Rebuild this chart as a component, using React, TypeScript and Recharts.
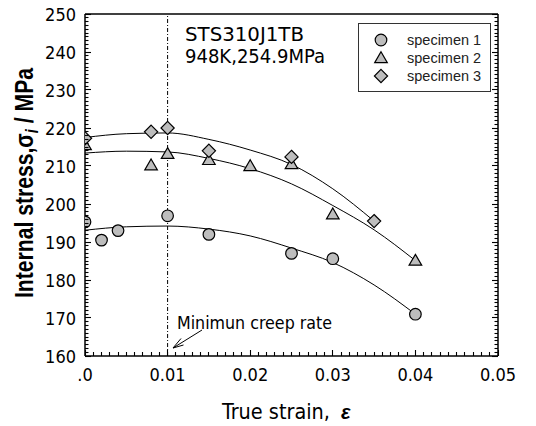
import React from 'react';
import { ComposedChart, XAxis, YAxis, Line, Scatter, ReferenceLine, Legend, Customized } from 'recharts';

// ---- measured points ----
const spec1Strain = [0, 0.002, 0.004, 0.01, 0.015, 0.025, 0.03, 0.04];
const spec1Stress = [195.3, 190.5, 193.0, 196.9, 192.0, 187.0, 185.6, 171.0];
const spec2Strain = [0, 0.008, 0.01, 0.015, 0.02, 0.025, 0.03, 0.04];
const spec2Stress = [215.5, 210.2, 213.2, 211.6, 210.0, 210.5, 197.3, 185.1];
const spec3Strain = [0, 0.008, 0.01, 0.015, 0.025, 0.035];
const spec3Stress = [217.3, 219.0, 220.0, 214.0, 212.4, 195.5];

// ---- fitted curves ----
const fit1Strain = [0, 0.005, 0.01, 0.015, 0.02, 0.025, 0.03, 0.035, 0.04];
const fit1Stress = [193.1, 194.0, 194.2, 193.4, 191.6, 188.4, 184.6, 178.7, 171.0];
const fit2Strain = [0, 0.005, 0.01, 0.015, 0.02, 0.025, 0.03, 0.035, 0.04];
const fit2Stress = [213.4, 213.9, 213.7, 212.0, 209.3, 205.3, 199.6, 193.2, 185.1];
const fit3Strain = [0, 0.005, 0.01, 0.015, 0.02, 0.025, 0.03, 0.035];
const fit3Stress = [217.5, 218.5, 218.7, 217.0, 214.2, 210.4, 204.0, 195.5];

const seriesNames = ['specimen 1', 'specimen 2', 'specimen 3'];

// ---- ticks ----
const xMajorTicks = [0, 0.01, 0.02, 0.03, 0.04, 0.05];
const xTickLabels = ['.0', '0.01', '0.02', '0.03', '0.04', '0.05'];
const yMajorTicks = [160, 170, 180, 190, 200, 210, 220, 230, 240, 250];
const yTickLabels = ['160', '170', '180', '190', '200', '210', '220', '230', '240', '250'];
const xAllTicks = Array.from({ length: 51 }, (_, i) => +(i * 0.001).toFixed(3));
const yAllTicks = Array.from({ length: 91 }, (_, i) => 160 + i);

const zip = (xs: number[], ys: number[]) => xs.map((x, i) => ({ x, y: ys[i] }));
const spec1 = zip(spec1Strain, spec1Stress);
const spec2 = zip(spec2Strain, spec2Stress);
const spec3 = zip(spec3Strain, spec3Stress);
const fit1 = zip(fit1Strain, fit1Stress);
const fit2 = zip(fit2Strain, fit2Stress);
const fit3 = zip(fit3Strain, fit3Stress);

const NARROW = "'Liberation Sans Narrow','DejaVu Sans Condensed','Arial Narrow',sans-serif";
const ARIAL = "'Liberation Sans',Arial,sans-serif";
const FILL = '#bdbdbd';

const xMajorIndex = (v: number) => xMajorTicks.findIndex((t) => Math.abs(t - v) < 1e-9);
const yMajorIndex = (v: number) => yMajorTicks.findIndex((t) => Math.abs(t - v) < 1e-9);
const px = (v: number) => Math.round(v - 0.5) + 0.5;

const tickStroke = { stroke: '#000', strokeWidth: 1.1, fill: 'none' };

const BottomTick = (p: any) => {
  const { x, y, payload } = p;
  const idx = xMajorIndex(payload.value);
  const major = idx >= 0;
  const len = major ? 6 : 4;
  const cx = px(x);
  return (
    <g>
      <path d={`M${cx},${y}L${cx},${y - len}`} {...tickStroke} />
      {major && (
        <text x={x} y={y + 25} textAnchor="middle" fontSize={18} fontFamily={NARROW} fill="#000" stroke="none">
          {xTickLabels[idx]}
        </text>
      )}
    </g>
  );
};
const TopTick = (p: any) => {
  const { x, y, payload } = p;
  const len = xMajorIndex(payload.value) >= 0 ? 6 : 4;
  const cx = px(x);
  return <path d={`M${cx},${y}L${cx},${y + len}`} {...tickStroke} />;
};
const LeftTick = (p: any) => {
  const { x, y, payload } = p;
  const idx = yMajorIndex(payload.value);
  const major = idx >= 0;
  const len = major ? 6 : 3.5;
  const cy = px(y);
  return (
    <g>
      <path d={`M${x},${cy}L${x + len},${cy}`} {...tickStroke} />
      {major && (
        <text x={x - 9} y={y + 6.5} textAnchor="end" fontSize={18} fontFamily={NARROW} fill="#000" stroke="none">
          {yTickLabels[idx]}
        </text>
      )}
    </g>
  );
};
const RightTick = (p: any) => {
  const { x, y, payload } = p;
  const len = yMajorIndex(payload.value) >= 0 ? 6 : 3.5;
  const cy = px(y);
  return <path d={`M${x},${cy}L${x - len},${cy}`} {...tickStroke} />;
};

const CircleShape = (p: any) => (
  <circle cx={p.cx} cy={p.cy} r={5.8} fill={FILL} stroke="#000" strokeWidth={1.2} />
);
const TriangleShape = (p: any) => {
  const { cx, cy } = p;
  return (
    <polygon
      points={`${cx},${cy - 6.2} ${cx + 6.3},${cy + 4.6} ${cx - 6.3},${cy + 4.6}`}
      fill={FILL}
      stroke="#000"
      strokeWidth={1.2}
    />
  );
};
const DiamondShape = (p: any) => {
  const { cx, cy } = p;
  return (
    <polygon
      points={`${cx},${cy - 6.6} ${cx + 6.6},${cy} ${cx},${cy + 6.6} ${cx - 6.6},${cy}`}
      fill={FILL}
      stroke="#000"
      strokeWidth={1.2}
    />
  );
};
const shapes = [CircleShape, TriangleShape, DiamondShape];

const LegendBox = () => (
  <svg width={133} height={69} style={{ display: 'block' }}>
    <rect x={0.5} y={0.5} width={132} height={68} fill="#fff" stroke="#333" strokeWidth={1} />
    {seriesNames.map((n, i) => {
      const S = shapes[i];
      const cy = 17 + i * 18;
      return (
        <g key={n}>
          <S cx={23} cy={cy} />
          <text x={49} y={cy + 5} fontSize={14.5} fontFamily={ARIAL} fill="#222">
            {n}
          </text>
        </g>
      );
    })}
  </svg>
);

const Annotations = () => (
  <g>
    <text x={185} y={41} fontSize={19} fontFamily={NARROW} textLength={119} lengthAdjust="spacingAndGlyphs" fill="#000">
      STS310J1TB
    </text>
    <text x={185} y={63} fontSize={19} fontFamily={NARROW} textLength={140} lengthAdjust="spacingAndGlyphs" fill="#000">
      948K,254.9MPa
    </text>
    <text x={177} y={329} fontSize={18} fontFamily={NARROW} textLength={155} lengthAdjust="spacingAndGlyphs" fill="#000">
      Minimun creep rate
    </text>
    <line x1={202} y1={330} x2={173} y2={348} stroke="#000" strokeWidth={1} />
    <polyline points="181,338.5 173,348 183.5,345" fill="none" stroke="#000" strokeWidth={1} />
    <text x={222} y={419} fontSize={22} fontFamily={NARROW} textLength={108} lengthAdjust="spacingAndGlyphs" fill="#000">
      True strain,
    </text>
    <text x={341} y={419} fontSize={20} fontFamily={ARIAL} fontWeight="bold" fontStyle="italic" fill="#000">
      ε
    </text>
    <text
      transform="translate(33,183) rotate(-90)"
      x={0}
      y={0}
      textAnchor="middle"
      fontSize={26}
      fontFamily={ARIAL}
      fontWeight="bold"
      fill="#000"
      textLength={230}
      lengthAdjust="spacingAndGlyphs"
    >
      Internal stress,σ
      <tspan fontStyle="italic" fontSize={18} dy={5}>i</tspan>
      <tspan dy={-5}> / MPa</tspan>
    </text>
  </g>
);

const frameLine = { stroke: '#000', strokeWidth: 1.5 };

export default function App() {
  return (
    <div style={{ position: 'absolute', left: 0, top: 0, width: 536, height: 426, background: '#fff' }}>
      <ComposedChart width={536} height={426} margin={{ top: 13, right: 37, bottom: 30, left: 25 }}>
        <XAxis
          xAxisId="x"
          dataKey="x"
          type="number"
          domain={[0, 0.05]}
          allowDataOverflow
          ticks={xAllTicks}
          interval={0}
          tickSize={0}
          tickMargin={0}
          tickLine={false}
          height={40}
          axisLine={frameLine}
          tick={BottomTick}
        />
        <XAxis
          xAxisId="xt"
          orientation="top"
          type="number"
          domain={[0, 0.05]}
          allowDataOverflow
          ticks={xAllTicks}
          interval={0}
          tickSize={0}
          tickMargin={0}
          tickLine={false}
          height={1}
          axisLine={frameLine}
          tick={TopTick}
        />
        <YAxis
          yAxisId="y"
          dataKey="y"
          type="number"
          domain={[160, 250]}
          allowDataOverflow
          ticks={yAllTicks}
          interval={0}
          tickSize={0}
          tickMargin={0}
          tickLine={false}
          width={60}
          axisLine={frameLine}
          tick={LeftTick}
        />
        <YAxis
          yAxisId="yr"
          orientation="right"
          type="number"
          domain={[160, 250]}
          allowDataOverflow
          ticks={yAllTicks}
          interval={0}
          tickSize={0}
          tickMargin={0}
          tickLine={false}
          width={1}
          axisLine={frameLine}
          tick={RightTick}
        />
        <ReferenceLine xAxisId="x" yAxisId="y" x={0.01} stroke="#000" strokeWidth={1} strokeDasharray="4 2 1 2" />
        <Line xAxisId="x" yAxisId="y" data={fit1} dataKey="y" type="monotone" stroke="#000" strokeWidth={1} dot={false} legendType="none" isAnimationActive={false} />
        <Line xAxisId="x" yAxisId="y" data={fit2} dataKey="y" type="monotone" stroke="#000" strokeWidth={1} dot={false} legendType="none" isAnimationActive={false} />
        <Line xAxisId="x" yAxisId="y" data={fit3} dataKey="y" type="monotone" stroke="#000" strokeWidth={1} dot={false} legendType="none" isAnimationActive={false} />
        <Scatter xAxisId="x" yAxisId="y" name={seriesNames[0]} data={spec1} dataKey="y" shape={CircleShape} isAnimationActive={false} />
        <Scatter xAxisId="x" yAxisId="y" name={seriesNames[1]} data={spec2} dataKey="y" shape={TriangleShape} isAnimationActive={false} />
        <Scatter xAxisId="x" yAxisId="y" name={seriesNames[2]} data={spec3} dataKey="y" shape={DiamondShape} isAnimationActive={false} />
        <Legend
          layout="vertical"
          align="center"
          verticalAlign="middle"
          content={() => <LegendBox />}
          wrapperStyle={{ top: 23, left: 358, width: 133, height: 69 }}
        />
        <Customized component={<Annotations />} />
      </ComposedChart>
    </div>
  );
}
